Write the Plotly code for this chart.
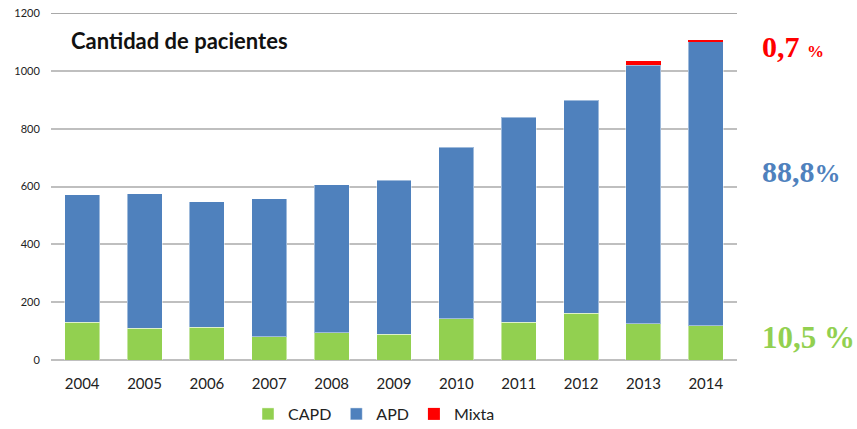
import plotly.graph_objects as go

years = ["2004", "2005", "2006", "2007", "2008", "2009", "2010", "2011", "2012", "2013", "2014"]
capd = [131, 110, 113, 80, 94, 89, 142, 131, 161, 125, 118]
apd = [440, 465, 435, 477, 512, 533, 593, 709, 738, 894, 982]
mixta = [0, 0, 0, 0, 0, 0, 0, 0, 0, 15, 8]
y_ticks = [0, 200, 400, 600, 800, 1000, 1200]

C_CAPD = "#92D050"
C_APD = "#4F81BD"
C_MIX = "#FF0000"

fig = go.Figure()
edge = dict(color="rgba(255,255,255,0.45)", width=1)
fig.add_trace(go.Bar(x=years, y=capd, name="CAPD", marker=dict(color=C_CAPD, line=edge)))
fig.add_trace(go.Bar(x=years, y=apd, name="APD", marker=dict(color=C_APD, line=edge)))
fig.add_trace(go.Bar(x=years, y=mixta, name="Mixta", marker=dict(color=C_MIX, line=dict(width=0))))

L, R, T, B = 51, 120, 13, 69
W, H = 857, 429
pw, ph = W - L - R, H - T - B


def px(x):
    return (x - L) / pw


def py(y):
    return (H - B - y) / ph


fig.update_layout(
    width=W, height=H,
    margin=dict(l=L, r=R, t=T, b=B, pad=0, autoexpand=False),
    barmode="stack",
    bargap=0.44,
    plot_bgcolor="white",
    paper_bgcolor="white",
    font=dict(family="Lato, 'Open Sans', sans-serif", color="#222222"),
    legend=dict(
        orientation="h", x=px(374), xanchor="center", y=py(414), yanchor="middle",
        font=dict(size=16, color="#222222"), traceorder="normal",
        itemwidth=30, tracegroupgap=0,
    ),
    xaxis=dict(
        showgrid=False, showline=False, zeroline=False, automargin=False,
        tickfont=dict(size=15, color="#222222"),
        ticks="outside", ticklen=10, tickcolor="rgba(0,0,0,0)",
        range=[-0.5, 10.5],
    ),
    yaxis=dict(
        range=[0, 1200], tickvals=y_ticks, ticktext=[str(v) for v in y_ticks],
        showgrid=True, gridcolor="#BFBFBF", gridwidth=1.5, automargin=False,
        zeroline=True, zerolinecolor="#BFBFBF", zerolinewidth=1.5,
        showline=False,
        tickfont=dict(size=11, color="#222222"),
        ticks="outside", ticklen=8, tickcolor="rgba(0,0,0,0)",
    ),
    shapes=[dict(type="line", xref="paper", yref="y", x0=0, x1=1, y0=1200, y1=1200,
                 line=dict(color="#8C8C8C", width=1.5))],
)

serif = "'Liberation Serif', 'Times New Roman', serif"
fig.add_annotation(
    text="<b>Cantidad de pacientes</b>", xref="paper", yref="paper",
    x=px(69), y=py(41), xanchor="left", yanchor="middle", showarrow=False,
    font=dict(size=22, color="#111111", family="Lato, sans-serif"),
)
fig.add_annotation(
    text="<b>0,7 <span style='font-size:17px'>%</span></b>", xref="paper", yref="paper",
    x=px(760), y=py(46), xanchor="left", yanchor="middle", showarrow=False,
    font=dict(size=30, color=C_MIX, family=serif),
)
fig.add_annotation(
    text="<b>88,8<span style='font-size:26px'>%</span></b>", xref="paper", yref="paper",
    x=px(760), y=py(171), xanchor="left", yanchor="middle", showarrow=False,
    font=dict(size=30, color=C_APD, family=serif),
)
fig.add_annotation(
    text="<b>10,5 %</b>", xref="paper", yref="paper",
    x=px(760), y=py(337), xanchor="left", yanchor="middle", showarrow=False,
    font=dict(size=31, color=C_CAPD, family=serif),
)

fig.write_html(
    "out.html",
    config={"displayModeBar": False},
    post_script="document.body.style.margin='0';document.body.style.overflow='hidden';",
)
